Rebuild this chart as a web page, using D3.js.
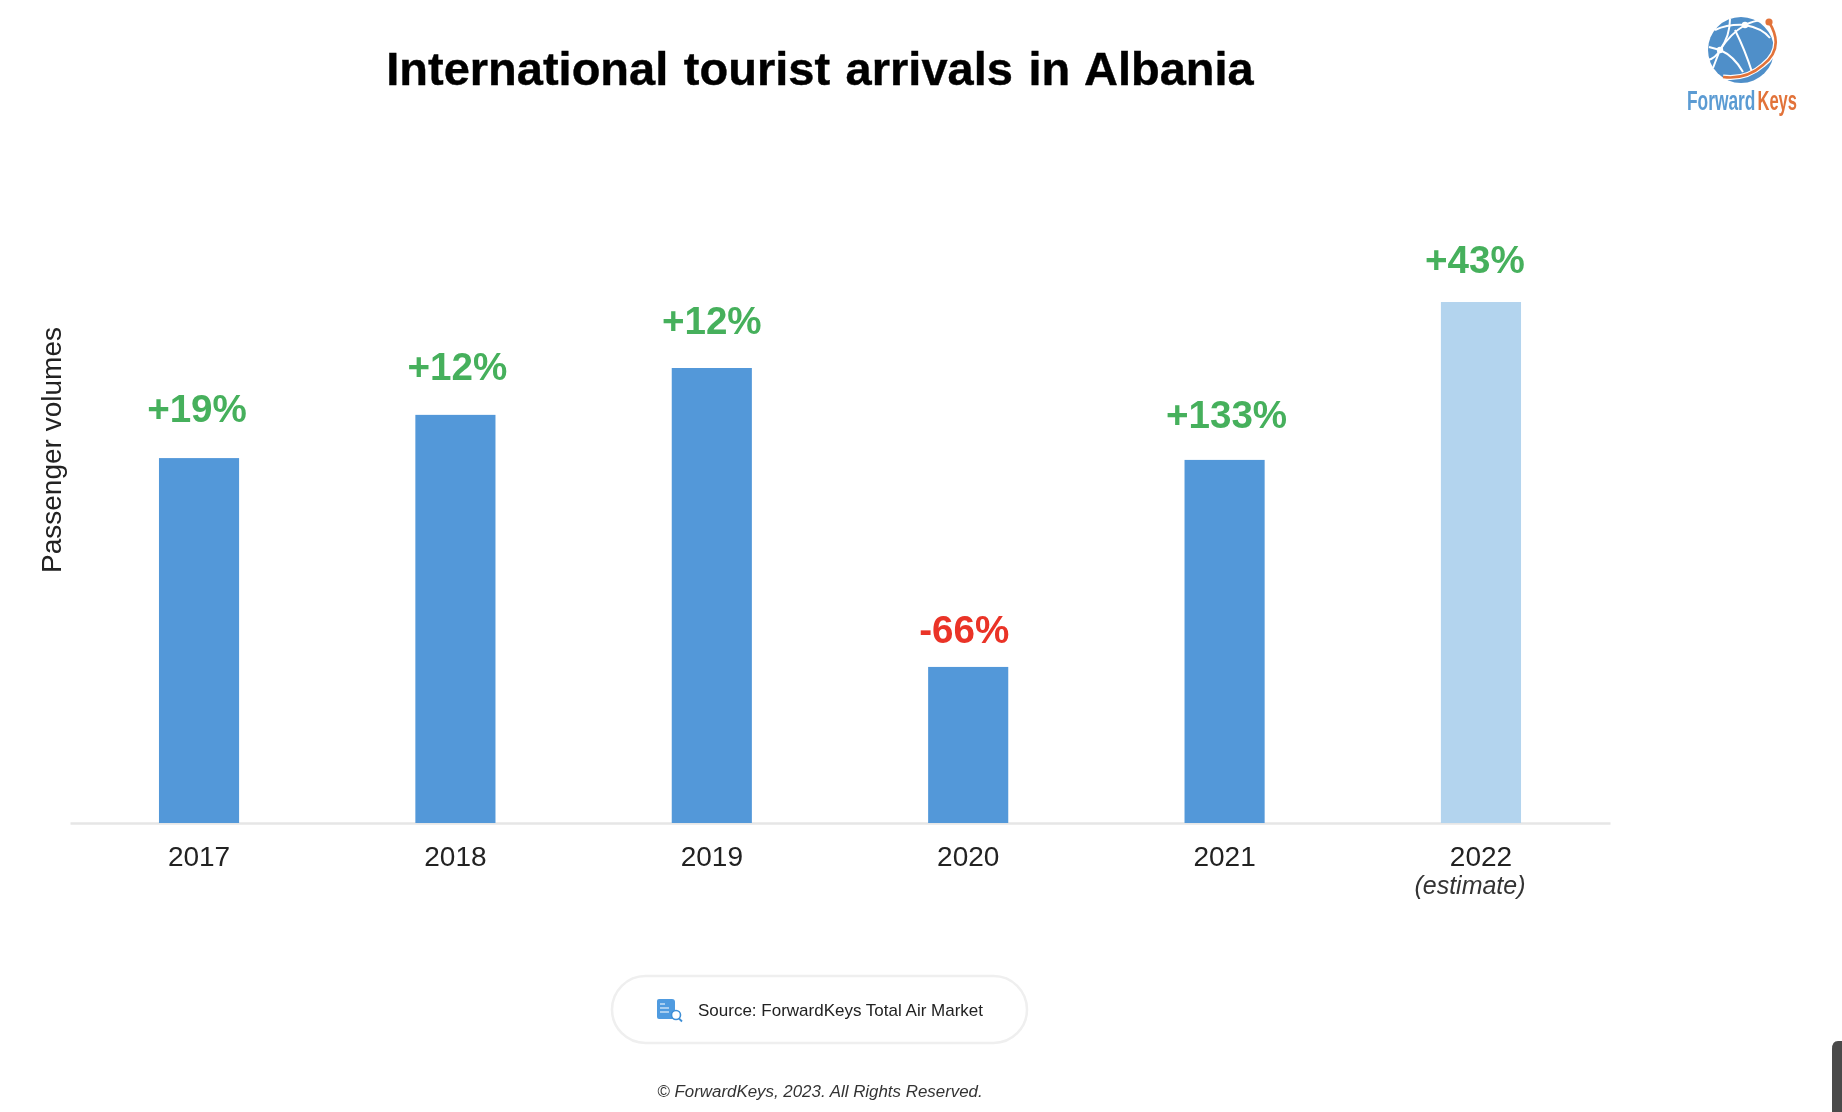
<!DOCTYPE html>
<html>
<head>
<meta charset="utf-8">
<script src="https://d3js.org/d3.v7.min.js"></script>
<style>
  html, body { margin: 0; padding: 0; background: #fff; overflow: hidden; }
  text { font-family: "Liberation Sans", Arial, sans-serif; }
  /* the reference is an upscaled screenshot, everything is slightly soft */
  .chartSVG { filter: blur(0.5px); }
</style>
</head>
<body>
<svg class="chartSVG" width="1842" height="1112"></svg>
<script>
// index, 2019 = 100 (no axis numbers in the picture)
const years = ["2017", "2018", "2019", "2020", "2021", "2022"]
const volumes = [80.2, 89.7, 100, 34.3, 79.8, 114.5]
const changes = ["+19%", "+12%", "+12%", "-66%", "+133%", "+43%"]
const estimated = ["2022"]

const baseline = 823

const svg = d3.select(".chartSVG")

const x = d3.scaleBand()
  .domain(years)
  .range([70, 1610])
  .paddingInner(0.6875)
  .paddingOuter(0.347)

const y = d3.scaleLinear()
  .domain([0, 120])
  .range([baseline, baseline - 546])

// labels sit a little off the bar centres in the source slide
const labelShift = { "2017": [-2, 36], "2018": [2, 35], "2019": [0, 34], "2020": [-4, 24], "2021": [2, 32], "2022": [-6, 29] }

// title
svg.append("text")
  .attr("x", 820).attr("y", 85)
  .attr("text-anchor", "middle")
  .attr("font-size", 47).attr("font-weight", "bold").attr("fill", "#000")
  .attr("word-spacing", 2.5)
  .attr("stroke", "#000").attr("stroke-width", 0.4)
  .text("International tourist arrivals in Albania")

// y label
svg.append("text")
  .attr("transform", "translate(61,450) rotate(-90)")
  .attr("text-anchor", "middle")
  .attr("font-size", 28).attr("fill", "#222")
  .text("Passenger volumes")

// x axis
const xAxis = svg.append("g")
  .attr("class", "xAxis")
  .attr("transform", `translate(0,${baseline})`)
  .call(d3.axisBottom(x).tickSize(0).tickPadding(23))

xAxis.select(".domain").attr("stroke", "#e6e6e6").attr("stroke-width", 2.5)
xAxis.selectAll("text")
  .attr("font-size", 28).attr("font-family", "Liberation Sans").attr("fill", "#222")

xAxis.selectAll(".tick")
  .filter(d => estimated.includes(d))
  .append("text")
  .attr("x", -11).attr("y", 71)
  .attr("text-anchor", "middle")
  .attr("font-size", 25).attr("font-style", "italic").attr("font-family", "Liberation Sans").attr("fill", "#333")
  .text("(estimate)")

// bars
svg.append("g").selectAll("rect")
  .data(years)
  .join("rect")
  .attr("x", d => x(d))
  .attr("y", (d, i) => y(volumes[i]))
  .attr("width", x.bandwidth())
  .attr("height", (d, i) => y(0) - y(volumes[i]))
  .attr("fill", d => estimated.includes(d) ? "#b3d4ee" : "#5398d9")

// change labels
svg.append("g").selectAll("text")
  .data(years)
  .join("text")
  .attr("x", d => x(d) + x.bandwidth() / 2 + labelShift[d][0])
  .attr("y", (d, i) => y(volumes[i]) - labelShift[d][1])
  .attr("text-anchor", "middle")
  .attr("font-size", 38.6).attr("font-weight", "bold")
  .attr("fill", (d, i) => changes[i][0] == "-" ? "#ea3327" : "#46b05c")
  .text((d, i) => changes[i])

drawSource()
drawLogo()

// dark scrollbar stub in the bottom right corner of the screenshot
svg.append("path")
  .attr("d", "M1842,1041 H1838 Q1832,1041 1832,1049 V1112 H1842 Z")
  .attr("fill", "#4a4a4a")

function drawSource() {
  svg.append("rect")
    .attr("x", 612).attr("y", 976)
    .attr("width", 415).attr("height", 67)
    .attr("rx", 33.5)
    .attr("fill", "#fff").attr("stroke", "#efefef").attr("stroke-width", 2.5)

  const icon = svg.append("g").attr("transform", "translate(657,999)")
  icon.append("path")
    .attr("d", "M2,0 H15 Q18,0 18,3 V18 Q18,20 16,20 H2 Q0,20 0,18 V2 Q0,0 2,0 Z")
    .attr("fill", "#4f9be0")
  icon.selectAll("line")
    .data([5, 9, 13])
    .join("line")
    .attr("x1", 3).attr("x2", (d, i) => i == 0 ? 8 : 12)
    .attr("y1", d => d).attr("y2", d => d)
    .attr("stroke", "#cfe4f7").attr("stroke-width", 1.4)
  icon.append("circle")
    .attr("cx", 19).attr("cy", 16).attr("r", 4.5)
    .attr("fill", "#fff").attr("stroke", "#3f8fd6").attr("stroke-width", 1.6)
  icon.append("line")
    .attr("x1", 22).attr("y1", 19.5).attr("x2", 25).attr("y2", 22.5)
    .attr("stroke", "#3f8fd6").attr("stroke-width", 1.8)

  svg.append("text")
    .attr("x", 698).attr("y", 1016)
    .attr("font-size", 17).attr("fill", "#222")
    .text("Source: ForwardKeys Total Air Market")

  svg.append("text")
    .attr("x", 820).attr("y", 1097)
    .attr("text-anchor", "middle")
    .attr("font-size", 16.9).attr("font-style", "italic").attr("fill", "#333")
    .text("© ForwardKeys, 2023. All Rights Reserved.")
}

function drawLogo() {
  const logo = svg.append("g").attr("class", "logo")
  logo.append("circle")
    .attr("cx", 1741).attr("cy", 50).attr("r", 33)
    .attr("fill", "#4f8fc9")

  // white network over the globe
  const nets = [
    "M1715,30 Q1728,24 1745,25 Q1762,28 1770,38",
    "M1730,19 Q1730,36 1720,50 Q1716,60 1713,68",
    "M1745,25 Q1730,34 1720,50",
    "M1709,47 L1720,50 Q1734,56 1743,72",
    "M1735,30 Q1745,50 1752,72",
    "M1708,60 Q1716,58 1720,50",
    "M1745,25 Q1760,18 1765,22"
  ]
  logo.selectAll("path.net")
    .data(nets)
    .join("path")
    .attr("class", "net")
    .attr("d", d => d)
    .attr("fill", "none").attr("stroke", "#fff").attr("stroke-width", 2)

  logo.selectAll("circle.node")
    .data([[1745, 25], [1720, 50]])
    .join("circle")
    .attr("class", "node")
    .attr("cx", d => d[0]).attr("cy", d => d[1]).attr("r", 3.2)
    .attr("fill", "#fff")

  logo.append("path")
    .attr("d", "M1769,22 Q1785,48 1763,65 Q1746,80 1723,77")
    .attr("fill", "none").attr("stroke", "#fff").attr("stroke-width", 5)
  logo.append("path")
    .attr("d", "M1769,22 Q1785,48 1763,65 Q1746,80 1723,77")
    .attr("fill", "none").attr("stroke", "#e2733a").attr("stroke-width", 2.6)
  logo.append("circle")
    .attr("cx", 1769).attr("cy", 22).attr("r", 3.6)
    .attr("fill", "#e2733a")

  // no narrow face installed, squeeze the normal one
  logo.append("text")
    .attr("transform", "translate(1687,110) scale(0.62,1)")
    .attr("font-size", 28).attr("font-weight", "bold").attr("fill", "#5b9bd3")
    .text("Forward")
  logo.append("text")
    .attr("transform", "translate(1757.5,110) scale(0.59,1)")
    .attr("font-size", 28).attr("font-weight", "bold").attr("fill", "#e2733a")
    .text("Keys")
}
</script>
</body>
</html>
